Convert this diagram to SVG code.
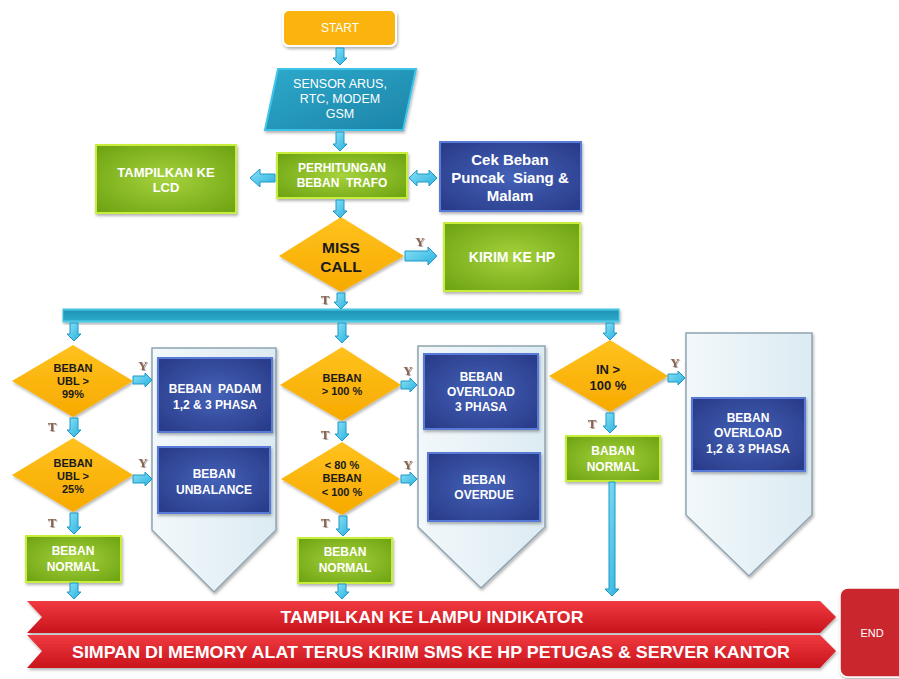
<svg xmlns="http://www.w3.org/2000/svg" width="899" height="679" viewBox="0 0 899 679">
<defs>
<radialGradient id="gGreen" cx="50%" cy="50%" r="65%"><stop offset="0" stop-color="#A6D23C"/><stop offset="1" stop-color="#6FA514"/></radialGradient>
<radialGradient id="gBlue" cx="50%" cy="50%" r="65%"><stop offset="0" stop-color="#4462B8"/><stop offset="1" stop-color="#2A3C8A"/></radialGradient>
<linearGradient id="gOrange" x1="0" y1="0" x2="0" y2="1"><stop offset="0" stop-color="#FFC21E"/><stop offset="1" stop-color="#F7AA00"/></linearGradient>
<linearGradient id="gTeal" x1="0" y1="0" x2="1" y2="1"><stop offset="0" stop-color="#2EA9CB"/><stop offset="1" stop-color="#1B84A8"/></linearGradient>
<linearGradient id="gBar" x1="0" y1="0" x2="0" y2="1"><stop offset="0" stop-color="#5FD4EC"/><stop offset="0.2" stop-color="#1F95B8"/><stop offset="0.8" stop-color="#2AA7C8"/><stop offset="1" stop-color="#6ADAF0"/></linearGradient>
<linearGradient id="gCont" x1="0" y1="0" x2="1" y2="0"><stop offset="0" stop-color="#F2F8FB"/><stop offset="1" stop-color="#DCEBF2"/></linearGradient>
<linearGradient id="gRed" x1="0" y1="0" x2="0" y2="1"><stop offset="0" stop-color="#F03A40"/><stop offset="1" stop-color="#C8141C"/></linearGradient>
<linearGradient id="gArr" x1="0" y1="0" x2="1" y2="1"><stop offset="0" stop-color="#8AE2F6"/><stop offset="1" stop-color="#2AB0DE"/></linearGradient>
<filter id="sh" x="-10%" y="-10%" width="130%" height="130%"><feDropShadow dx="1" dy="2" stdDeviation="1.5" flood-color="#000" flood-opacity="0.3"/></filter>
<filter id="tsh" x="-20%" y="-20%" width="150%" height="150%"><feDropShadow dx="1" dy="1" stdDeviation="0.6" flood-color="#000" flood-opacity="0.35"/></filter>
<style>
.green{fill:url(#gGreen);stroke:#C8EE3A;stroke-width:2;filter:url(#sh)}
.blue{fill:url(#gBlue);stroke:#5A7AD8;stroke-width:2;filter:url(#sh)}
.dia{fill:url(#gOrange);filter:url(#sh)}
.cont{fill:url(#gCont);stroke:#8FA4B0;stroke-width:1.5;filter:url(#sh)}
.arr{fill:url(#gArr);stroke:#1C98C8;stroke-width:1}
.wt{fill:#FFFFFF;font-family:"Liberation Sans",Arial,sans-serif;font-weight:bold;text-anchor:middle;white-space:pre}
.wn{fill:#FFFFFF;font-family:"Liberation Sans",Arial,sans-serif;text-anchor:middle}
.bk{fill:#1A1A1A;font-family:"Liberation Sans",Arial,sans-serif;font-weight:bold;text-anchor:middle}
.yt{fill:#8C6450;font-family:"Liberation Serif","Times New Roman",serif;font-weight:bold;font-size:13px;text-anchor:middle;filter:url(#tsh)}
</style>
</defs>
<rect width="899" height="679" fill="#FFFFFF"/>

<g id="start"><rect x="283" y="10" width="113" height="36" rx="6" fill="#FBB40F" stroke="#FFFFFF" stroke-width="2" filter="url(#sh)"/><text class="wn" x="340" y="32" font-size="12">START</text></g>

<g id="sensor"><polygon points="278,69 416,69 403,130 265,130" fill="url(#gTeal)" stroke="#3CC4E8" stroke-width="2" filter="url(#sh)"/><text class="wn" font-size="12.5" x="340" y="88">SENSOR ARUS,</text><text class="wn" font-size="12.5" x="340" y="103">RTC, MODEM</text><text class="wn" font-size="12.5" x="340" y="118">GSM</text></g>

<g id="perhitungan"><rect class="green" x="277" y="153" width="130" height="45"/><text class="wt" font-size="12" x="342" y="172">PERHITUNGAN</text><text class="wt" font-size="12" x="342" y="187" xml:space="preserve">BEBAN  TRAFO</text></g>

<g id="lcd"><rect class="green" x="96" y="145" width="140" height="68"/><text class="wt" font-size="13" x="166" y="177">TAMPILKAN KE</text><text class="wt" font-size="13" x="166" y="192">LCD</text></g>

<g id="cekbeban"><rect class="blue" x="440" y="142" width="141" height="69"/><text class="wt" font-size="15" x="510" y="165">Cek Beban</text><text class="wt" font-size="15" x="510" y="183" xml:space="preserve">Puncak  Siang &amp;</text><text class="wt" font-size="15" x="510" y="201">Malam</text></g>

<g id="misscall"><polygon class="dia" points="341,217 404,256 341,292 279,256"/><text class="bk" font-size="15.5" x="341" y="253">MISS</text><text class="bk" font-size="15.5" x="341" y="272">CALL</text></g>

<g id="kirimhp"><rect class="green" x="444" y="223" width="136" height="68"/><text class="wt" font-size="14" x="512" y="262">KIRIM KE HP</text></g>

<g id="bar"><rect x="63" y="309" width="556" height="13" fill="url(#gBar)" stroke="#3CC4E8" stroke-width="1" filter="url(#sh)"/></g>

<g id="d1"><polygon class="dia" points="73,345 133,381 73,417 12,381"/><text class="bk" font-size="11" x="73" y="372">BEBAN</text><text class="bk" font-size="11" x="73" y="385">UBL &gt;</text><text class="bk" font-size="11" x="73" y="398">99%</text></g>
<g id="d2"><polygon class="dia" points="73,438 133,475 73,512 12,475"/><text class="bk" font-size="11" x="73" y="467">BEBAN</text><text class="bk" font-size="11" x="73" y="480">UBL &gt;</text><text class="bk" font-size="11" x="73" y="493">25%</text></g>
<g id="normal1"><rect class="green" x="26" y="536" width="95" height="46"/><text class="wt" font-size="12" x="73" y="555">BEBAN</text><text class="wt" font-size="12" x="73" y="571">NORMAL</text></g>

<g id="cont1"><path class="cont" d="M152,348 H276 V530 L214,592 L152,530 Z"/></g>
<g id="padam"><rect class="blue" x="158" y="358" width="114" height="74"/><text class="wt" font-size="12" x="215" y="393" xml:space="preserve">BEBAN  PADAM</text><text class="wt" font-size="12" x="215" y="409">1,2 &amp; 3 PHASA</text></g>
<g id="unbalance"><rect class="blue" x="158" y="447" width="112" height="66"/><text class="wt" font-size="12" x="214" y="478">BEBAN</text><text class="wt" font-size="12" x="214" y="494">UNBALANCE</text></g>

<g id="d3"><polygon class="dia" points="342,347 401,385 342,421 280,385"/><text class="bk" font-size="11" x="342" y="382">BEBAN</text><text class="bk" font-size="11" x="342" y="395">&gt; 100 %</text></g>
<g id="d4"><polygon class="dia" points="342,442 400,479 342,515 281,479"/><text class="bk" font-size="11" x="342" y="469">&lt; 80 %</text><text class="bk" font-size="11" x="342" y="482">BEBAN</text><text class="bk" font-size="11" x="342" y="496">&lt; 100 %</text></g>
<g id="normal2"><rect class="green" x="298" y="538" width="94" height="45"/><text class="wt" font-size="12" x="345" y="556">BEBAN</text><text class="wt" font-size="12" x="345" y="572">NORMAL</text></g>

<g id="cont2"><path class="cont" d="M418,346 H545 V527 L481,588 L418,527 Z"/></g>
<g id="overload3"><rect class="blue" x="424" y="354" width="114" height="75"/><text class="wt" font-size="12" x="481" y="381">BEBAN</text><text class="wt" font-size="12" x="481" y="396">OVERLOAD</text><text class="wt" font-size="12" x="481" y="411">3 PHASA</text></g>
<g id="overdue"><rect class="blue" x="428" y="453" width="112" height="68"/><text class="wt" font-size="12" x="484" y="484">BEBAN</text><text class="wt" font-size="12" x="484" y="499">OVERDUE</text></g>

<g id="d5"><polygon class="dia" points="610,340 668,376 610,412 549,376"/><text class="bk" font-size="13" x="608" y="374">IN &gt;</text><text class="bk" font-size="13" x="608" y="390">100 %</text></g>
<g id="normal3"><rect class="green" x="566" y="436" width="94" height="45"/><text class="wt" font-size="12" x="613" y="455">BABAN</text><text class="wt" font-size="12" x="613" y="471">NORMAL</text></g>

<g id="cont3"><path class="cont" d="M686,333 H812 V515 L749,576 L686,515 Z"/></g>
<g id="overload123"><rect class="blue" x="692" y="398" width="113" height="73"/><text class="wt" font-size="12" x="748" y="422">BEBAN</text><text class="wt" font-size="12" x="748" y="437">OVERLOAD</text><text class="wt" font-size="12" x="748" y="453">1,2 &amp; 3 PHASA</text></g>

<g id="banner1"><path d="M27,601 H820 L836,617 L820,633 H27 L42,617 Z" fill="url(#gRed)" filter="url(#sh)"/><text class="wt" font-size="17" x="432" y="623" textLength="303" lengthAdjust="spacingAndGlyphs">TAMPILKAN KE LAMPU INDIKATOR</text></g>
<g id="banner2"><path d="M27,635 H820 L836,651 L820,668 H27 L42,651 Z" fill="url(#gRed)" filter="url(#sh)"/><text class="wt" font-size="17" x="431" y="658" textLength="718" lengthAdjust="spacingAndGlyphs">SIMPAN DI MEMORY ALAT TERUS KIRIM SMS KE HP PETUGAS &amp; SERVER KANTOR</text></g>

<g id="end"><rect x="840" y="588" width="70" height="89" rx="8" fill="#C9282E" stroke="#FFFFFF" stroke-width="1.5" filter="url(#sh)"/><text class="wn" font-size="11" x="872" y="637">END</text></g>

<g id="connectors">
<path class="arr" d="M336,48 H344 V58 H347 L340,65 L333,58 H336 Z"/>
<path class="arr" d="M336,132 H344 V144 H347 L340,151 L333,144 H336 Z"/>
<path class="arr" d="M336,200 H344 V211 H347 L340,218 L333,211 H336 Z"/>
<path class="arr" d="M337,293 H345 V302 H348 L341,309 L334,302 H337 Z"/>
<path class="arr" d="M70,323 H78 V334 H81 L74,341 L67,334 H70 Z"/>
<path class="arr" d="M338,323 H346 V336 H349 L342,343 L335,336 H338 Z"/>
<path class="arr" d="M606,323 H614 V333 H617 L610,340 L603,333 H606 Z"/>
<path class="arr" d="M70,418 H78 V430 H81 L74,437 L67,430 H70 Z"/>
<path class="arr" d="M70,513 H78 V527 H81 L74,534 L67,527 H70 Z"/>
<path class="arr" d="M70,583 H78 V592 H81 L74,599 L67,592 H70 Z"/>
<path class="arr" d="M338,422 H346 V434 H349 L342,441 L335,434 H338 Z"/>
<path class="arr" d="M339,516 H347 V529 H350 L343,536 L336,529 H339 Z"/>
<path class="arr" d="M338,584 H346 V592 H349 L342,599 L335,592 H338 Z"/>
<path class="arr" d="M606,413 H614 V426 H617 L610,433 L603,426 H606 Z"/>
<path class="arr" d="M609,482 H615 V589 H619 L612,596 L605,589 H609 Z"/>
<path class="arr" d="M133,376 H145 V373 L152,380 L145,387 V384 H133 Z"/>
<path class="arr" d="M133,475 H145 V472 L152,479 L145,486 V483 H133 Z"/>
<path class="arr" d="M401,381 H410 V378 L417,385 L410,392 V389 H401 Z"/>
<path class="arr" d="M401,475 H410 V472 L417,479 L410,486 V483 H401 Z"/>
<path class="arr" d="M668,374 H678 V371 L685,378 L678,385 V382 H668 Z"/>
<path class="arr" d="M405,251 H428 V247 L437,256 L428,265 V261 H405 Z"/>
<path class="arr" d="M275,174 H260 V169 L250,178 L260,187 V182 H275 Z"/>
<path class="arr" d="M409,178 L417,170 V174 H429 V170 L437,178 L429,186 V182 H417 V186 Z"/>
<text class="yt" x="420" y="246">Y</text>
<text class="yt" x="325" y="304">T</text>
<text class="yt" x="143" y="370">Y</text>
<text class="yt" x="52" y="431">T</text>
<text class="yt" x="143" y="467">Y</text>
<text class="yt" x="52" y="527">T</text>
<text class="yt" x="408" y="375">Y</text>
<text class="yt" x="325" y="439">T</text>
<text class="yt" x="408" y="469">Y</text>
<text class="yt" x="325" y="527">T</text>
<text class="yt" x="675" y="367">Y</text>
<text class="yt" x="592" y="428">T</text>
</g>
</svg>
